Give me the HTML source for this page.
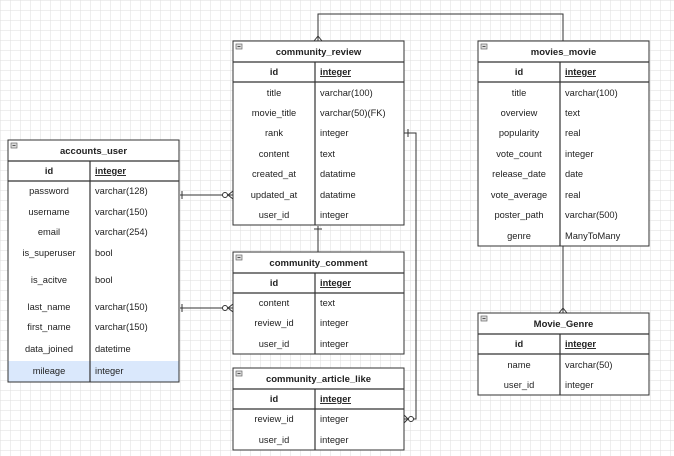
<!DOCTYPE html>
<html><head><meta charset="utf-8"><style>
html,body{margin:0;padding:0;background:#fff}
svg{display:block}
text{font-family:"Liberation Sans",sans-serif;font-size:9.3px;fill:#222}
.t{font-weight:bold;font-size:9.5px}
</style></head><body>
<svg width="674" height="456" viewBox="0 0 674 456" xmlns="http://www.w3.org/2000/svg">
<defs>
<pattern id="g" width="10" height="10" patternUnits="userSpaceOnUse"><path d="M10 0H0V10" fill="none" stroke="#dedede" stroke-width="1"/></pattern>
</defs>
<rect width="674" height="456" fill="url(#g)"/>
<g stroke="#333" fill="none" stroke-width="1">
<path d="M180 195H233"/><path d="M182 191V199"/><circle cx="225" cy="195" r="2.5" fill="#fff"/><path d="M233 191L228 195L233 199"/>
<path d="M180 308H233"/><path d="M182 304V312"/><circle cx="225" cy="308" r="2.5" fill="#fff"/><path d="M233 304L228 308L233 312"/>
<path d="M318 41V14H563V41"/><path d="M314 41L318 36L322 41"/>
<path d="M404 133H416V419H404"/><path d="M408 129V137"/><circle cx="411" cy="419" r="2.5" fill="#fff"/><path d="M404 415L408 419L404 423"/>
<path d="M318 226V252"/><path d="M314 229H322"/>
<path d="M563 246V313"/><path d="M559 313L563 308L567 313"/>
</g>
<g id="tables"></g>
</svg>
<script>
const T=[
 {x:8,w:171,sx:90,ty:140,title:"accounts_user",rows:[["password","varchar(128)",191],["username","varchar(150)",212],["email","varchar(254)",232],["is_superuser","bool",253],["is_acitve","bool",280],["last_name","varchar(150)",307],["first_name","varchar(150)",327],["data_joined","datetime",349],["mileage","integer",371]],bot:382,hl:[361,382]},
 {x:233,w:171,sx:315,ty:41,title:"community_review",rows:[["title","varchar(100)",93],["movie_title","varchar(50)(FK)",113],["rank","integer",133],["content","text",154],["created_at","datatime",174],["updated_at","datatime",195],["user_id","integer",215]],bot:225},
 {x:233,w:171,sx:315,ty:252,title:"community_comment",rows:[["content","text",303],["review_id","integer",323],["user_id","integer",344]],bot:354},
 {x:233,w:171,sx:315,ty:368,title:"community_article_like",rows:[["review_id","integer",419],["user_id","integer",440]],bot:450},
 {x:478,w:171,sx:560,ty:41,title:"movies_movie",rows:[["title","varchar(100)",93],["overview","text",113],["popularity","real",133],["vote_count","integer",154],["release_date","date",174],["vote_average","real",195],["poster_path","varchar(500)",215],["genre","ManyToMany",236]],bot:246},
 {x:478,w:171,sx:560,ty:313,title:"Movie_Genre",rows:[["name","varchar(50)",365],["user_id","integer",385]],bot:395}
];
let s="";
for(const t of T){
 const {x,w,sx,ty,bot}=t, r=x+w;
 s+=`<rect x="${x}" y="${ty}" width="${w}" height="${bot-ty}" fill="#fff" stroke="#333"/>`;
 if(t.hl) s+=`<rect x="${x+0.5}" y="${t.hl[0]}" width="${w-1}" height="${t.hl[1]-t.hl[0]-0.5}" fill="#dae8fc"/>`;
 s+=`<rect x="${x+3}" y="${ty+3}" width="6" height="5" fill="#ddd" stroke="#666" stroke-width="0.7"/><path d="M${x+4.5} ${ty+5.5}h3" stroke="#333" stroke-width="0.8"/>`;
 s+=`<text class="t" x="${x+w/2}" y="${ty+14}" text-anchor="middle">${t.title}</text>`;
 s+=`<path d="M${x} ${ty+21}H${r}M${x} ${ty+41}H${r}M${sx} ${ty+21}V${bot}" stroke="#333" stroke-width="1.2"/>`;
 s+=`<text x="${(x+sx)/2}" y="${ty+34}" text-anchor="middle" font-weight="bold">id</text>`;
 s+=`<text x="${sx+5}" y="${ty+34}" font-weight="bold" text-decoration="underline">integer</text>`;
 for(const [a,b,y] of t.rows){
  s+=`<text x="${(x+sx)/2}" y="${y+3}" text-anchor="middle">${a}</text><text x="${sx+5}" y="${y+3}">${b}</text>`;
 }
 s+=`<rect x="${x}" y="${ty}" width="${w}" height="${bot-ty}" fill="none" stroke="#333"/>`;
}
document.getElementById("tables").innerHTML=s;
</script>
</body></html>
